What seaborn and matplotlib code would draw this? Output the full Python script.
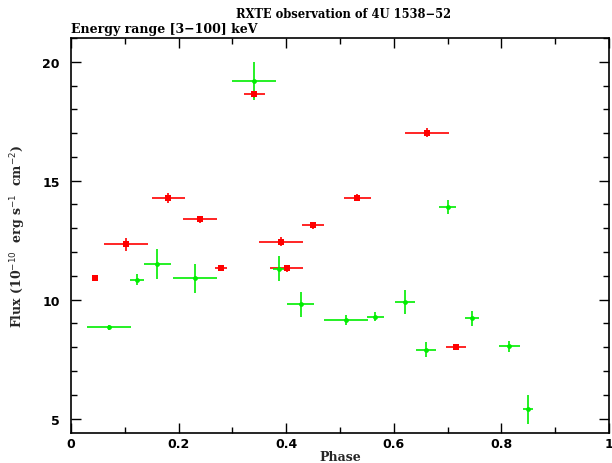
import matplotlib
matplotlib.use("Agg")
import matplotlib.pyplot as plt
from matplotlib.ticker import MultipleLocator
import seaborn as sns
import pandas as pd

# red series
red_phase = [0.045, 0.102, 0.181, 0.240, 0.279, 0.341, 0.391, 0.401, 0.450, 0.532, 0.662, 0.716]
red_flux = [10.92, 12.32, 14.28, 13.37, 11.31, 18.64, 12.44, 11.31, 13.12, 14.28, 17.02, 8.01]
red_xerr = [0.003, 0.041, 0.031, 0.031, 0.011, 0.020, 0.041, 0.031, 0.020, 0.025, 0.041, 0.018]
red_yerr = [0.10, 0.26, 0.20, 0.15, 0.12, 0.15, 0.20, 0.15, 0.15, 0.15, 0.20, 0.13]

# green series
green_phase = [0.071, 0.122, 0.160, 0.230, 0.341, 0.387, 0.427, 0.511, 0.566, 0.621, 0.660, 0.700, 0.746, 0.815, 0.850]
green_flux = [8.83, 10.84, 11.49, 10.89, 19.20, 11.30, 9.80, 9.14, 9.29, 9.90, 7.90, 13.89, 9.21, 8.04, 5.39]
green_xerr = [0.041, 0.013, 0.025, 0.041, 0.041, 0.012, 0.025, 0.041, 0.015, 0.019, 0.019, 0.015, 0.013, 0.019, 0.009]
green_yerr = [0.10, 0.23, 0.62, 0.61, 0.80, 0.52, 0.52, 0.21, 0.18, 0.52, 0.32, 0.31, 0.31, 0.24, 0.62]

RED = "#ff0000"
GREEN = "#00ee00"

sns.set_style("ticks", {"axes.edgecolor": "black", "xtick.color": "black",
                        "ytick.color": "black", "text.color": "black"})
plt.rcParams["font.family"] = ["DejaVu Sans"]

red_df = pd.DataFrame({"phase": red_phase, "flux": red_flux})
green_df = pd.DataFrame({"phase": green_phase, "flux": green_flux})

fig = plt.figure(figsize=(6.12, 4.64), dpi=100)
ax = fig.add_axes([0.116, 0.065, 0.879, 0.851])

ax.errorbar(red_phase, red_flux, xerr=red_xerr, yerr=red_yerr, fmt="none",
            ecolor=RED, elinewidth=1.2, capsize=0)
ax.errorbar(green_phase, green_flux, xerr=green_xerr, yerr=green_yerr, fmt="none",
            ecolor=GREEN, elinewidth=1.2, capsize=0)
sns.scatterplot(data=red_df, x="phase", y="flux", color=RED, marker="s", s=14,
                linewidth=0, ax=ax, zorder=3)
sns.scatterplot(data=green_df, x="phase", y="flux", color=GREEN, marker="o", s=12,
                linewidth=0, ax=ax, zorder=3)

ax.set_xlim(0, 1)
ax.set_ylim(4.4, 21.0)
ax.xaxis.set_minor_locator(MultipleLocator(0.1))
ax.yaxis.set_major_locator(MultipleLocator(5))
ax.yaxis.set_minor_locator(MultipleLocator(1))
ax.set_xticks([0, 0.2, 0.4, 0.6, 0.8, 1.0])
ax.set_xticklabels(["0", "0.2", "0.4", "0.6", "0.8", "1"])
ax.tick_params(which="both", direction="in", top=True, right=True,
               labelsize=9, width=1, colors="black")
ax.tick_params(axis="x", pad=3)
ax.tick_params(axis="y", pad=8)
ax.tick_params(which="major", length=7)
ax.tick_params(which="minor", length=4)
for lab in ax.get_xticklabels() + ax.get_yticklabels():
    lab.set_fontweight("bold")
for sp in ax.spines.values():
    sp.set_visible(True)
    sp.set_linewidth(1.2)
    sp.set_color("black")

serif = ["DejaVu Serif"]
ax.set_xlabel("Phase", family=serif, fontweight="bold", fontsize=9, labelpad=0)
ax.set_ylabel(r"Flux (10$^{-10}$  erg s$^{-1}$  cm$^{-2}$)", family=serif,
              fontweight="bold", fontsize=9, labelpad=10)
fig.text(0.561, 0.968, "RXTE observation of 4U 1538\u221252", family=serif,
         fontweight="bold", fontsize=8.3, ha="center", va="center")
fig.text(0.116, 0.937, "Energy range [3\u2212100] keV", family=serif,
         fontweight="bold", fontsize=9, ha="left", va="center")

fig.savefig("out.png", dpi=100)
